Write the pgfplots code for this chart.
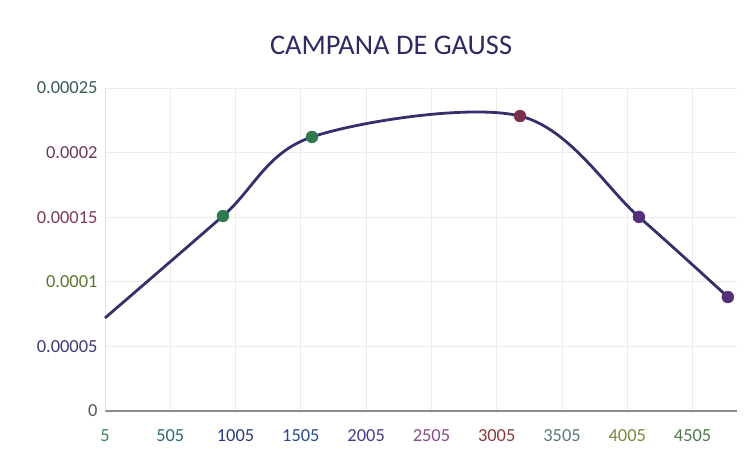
\documentclass[border=0pt]{standalone}
\usepackage{pgfplots}
\pgfplotsset{compat=1.18}
\usepackage{fontspec}
\setmainfont{Carlito}
\definecolor{linec}{HTML}{33306B}
\definecolor{gridc}{HTML}{ECECEC}
\definecolor{mkgreen}{HTML}{2E7A4E}
\definecolor{mkred}{HTML}{7A3050}
\definecolor{mkpurple}{HTML}{54307A}
\begin{document}
\begin{tikzpicture}
\begin{axis}[
  name=ax,
  scale only axis,
  width=632bp, height=323bp,
  xmin=5, xmax=4845,
  ymin=0, ymax=0.00025,
  xtick={5,505,1005,1505,2005,2505,3005,3505,4005,4505},
  xticklabels={\textcolor[HTML]{3A8A5A}{5},\textcolor[HTML]{2A6A7A}{505},\textcolor[HTML]{2A3A7A}{1005},\textcolor[HTML]{2A4A8A}{1505},\textcolor[HTML]{4A3A8A}{2005},\textcolor[HTML]{8A4A8A}{2505},\textcolor[HTML]{8A3A3A}{3005},\textcolor[HTML]{5A7A7A}{3505},\textcolor[HTML]{7A8A3A}{4005},\textcolor[HTML]{4A7A4A}{4505}},
  ytick={0,0.00005,0.0001,0.00015,0.0002,0.00025},
  yticklabels={\textcolor[HTML]{555555}{0},\textcolor[HTML]{3A3A7A}{0.00005},\textcolor[HTML]{5A7A2A}{0.0001},\textcolor[HTML]{7A3A5A}{0.00015},\textcolor[HTML]{6A3A5A}{0.0002},\textcolor[HTML]{3A5A5A}{0.00025}},
  scaled y ticks=false,
  /pgf/number format/assume math mode=true,
  tick label style={font=\fontsize{18.5}{20}\selectfont},
  yticklabel style={xshift=-4bp},
  xticklabel style={yshift=-15bp},
  major tick length=0pt,
  grid=major,
  major grid style={gridc, line width=0.8bp},
  axis x line*=bottom,
  axis y line*=left,
  x axis line style={draw=black!45, line width=1.2bp, -},
  y axis line style={draw=black!12, line width=0.8bp, -},
  clip=false,
]
\addplot[linec, line width=2.8bp, smooth, tension=0.55] coordinates {
  (5,0.0000720) (908,0.0001509) (1590,0.0002121) (3183,0.0002283) (4094,0.0001502) (4775,0.0000882)
};
\addplot[only marks, mark=*, mark size=6bp, mkgreen, mark options={draw=mkgreen}] coordinates {
  (908,0.0001509) (1590,0.0002121)
};
\addplot[only marks, mark=*, mark size=6bp, mkred] coordinates {
  (3183,0.0002283)
};
\addplot[only marks, mark=*, mark size=6bp, mkpurple] coordinates {
  (4094,0.0001502) (4775,0.0000882)
};
\end{axis}
\node[font=\fontsize{28.5}{32}\selectfont, text=linec!90!black] at ([shift={(286bp,43bp)}]ax.north west) {CAMPANA DE GAUSS};
\pgfresetboundingbox
\path[use as bounding box] ([shift={(-105bp,-41bp)}]ax.south west) rectangle ([shift={(18bp,88bp)}]ax.north east);
\end{tikzpicture}
\end{document}
